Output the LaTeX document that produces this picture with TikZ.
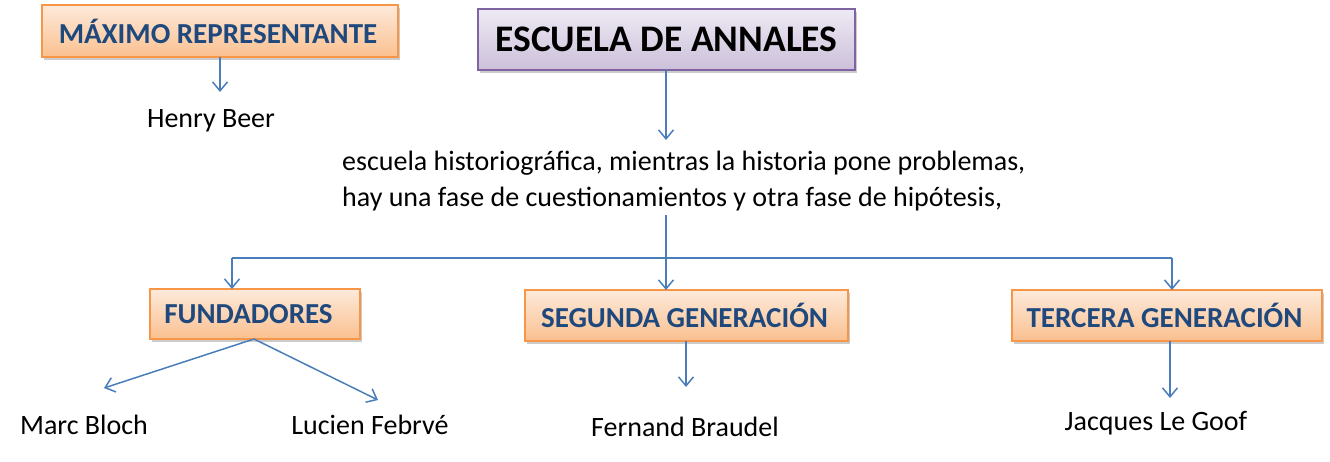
\documentclass[tikz,border=0pt]{standalone}
\usepackage{fontspec}
\setmainfont{Carlito}
\usetikzlibrary{shadows,arrows.meta}
\definecolor{ob}{HTML}{F79646}
\definecolor{otop}{HTML}{FDEADA}
\definecolor{obot}{HTML}{FAC090}
\definecolor{pb}{HTML}{8064A2}
\definecolor{ptop}{HTML}{EEEAF4}
\definecolor{pbot}{HTML}{CCC0DA}
\definecolor{tb}{HTML}{1F497D}
\definecolor{ar}{HTML}{4A7EBB}
\tikzset{
  obox/.style={draw=ob, line width=1.2pt, top color=otop, bottom color=obot, drop shadow={shadow xshift=2pt, shadow yshift=-3pt, fill=black!40, opacity=0.5}, text=tb, font=\fontsize{29}{32}\selectfont\bfseries, inner sep=0pt},
  pbox/.style={draw=pb, line width=1.2pt, top color=ptop, bottom color=pbot, drop shadow={shadow xshift=2pt, shadow yshift=-3pt, fill=black!40, opacity=0.5}, text=black, font=\fontsize{37.5}{42}\selectfont\bfseries, inner sep=0pt},
  plain/.style={font=\fontsize{28}{36}\selectfont, inner sep=0pt},
  conn/.style={draw=ar, line width=1.5pt},
  arr/.style={conn, -{Straight Barb[length=9pt,width=15pt,line width=1.5pt]}}
}
\begin{document}
\begin{tikzpicture}[x=1pt,y=-1pt]
\useasboundingbox (0,0) rectangle (1330,461);
% boxes
\node[obox, minimum width=356pt, minimum height=52pt] (max) at (220,31) {\hspace*{-4pt}MÁXIMO REPRESENTANTE};
\node[pbox, minimum width=377pt, minimum height=61pt] (esc) at (666.5,39.5) {ESCUELA DE ANNALES};
\node[obox, minimum width=210pt, minimum height=50pt] (fun) at (255,314) {\hspace*{-13pt}FUNDADORES};
\node[obox, minimum width=323pt, minimum height=51pt] (seg) at (686.5,315.5) {\hspace*{-4pt}SEGUNDA GENERACIÓN};
\node[obox, minimum width=310pt, minimum height=51pt] (ter) at (1167,315.5) {\hspace*{-5pt}TERCERA GENERACIÓN};
% plain texts
\node[plain] (hb) at (211,121) {Henry Beer};
\node[plain, anchor=west, align=left] (par) at (342,181) {escuela historiográfica, mientras la historia pone problemas,\\hay una fase de cuestionamientos y otra fase de hipótesis,};
\node[plain] (mb) at (84,425) {Marc Bloch};
\node[plain] (lf) at (370,425) {Lucien Febrvé};
\node[plain] (fb) at (685,427) {Fernand Braudel};
\node[plain] (jl) at (1156,423) {Jacques Le Goof};
% coordinates
\coordinate (mx) at (220,57);
\coordinate (hbt) at (220,92);
\coordinate (ex) at (666,70);
\coordinate (pt) at (666,140);
\coordinate (pb) at (666,215);
\coordinate (jc) at (666,258);
\coordinate (jlft) at (232,258);
\coordinate (jrgt) at (1172,258);
\coordinate (fa) at (232,289);
\coordinate (sa) at (666,290);
\coordinate (ta) at (1172,290);
\coordinate (fo) at (254,339);
\coordinate (mbt) at (104,388);
\coordinate (lft) at (378,400);
\coordinate (so) at (686,341);
\coordinate (fbt) at (686,387);
\coordinate (to) at (1170,341);
\coordinate (jlt) at (1170,398);
% connectors
\draw[arr] (mx) -- (hbt);
\draw[arr] (ex) -- (pt);
\draw[conn] (pb) -- (jc);
\draw[conn] (jlft) -- (jrgt);
\draw[arr] (jlft) -- (fa);
\draw[arr] (jc) -- (sa);
\draw[arr] (jrgt) -- (ta);
\draw[arr] (fo) -- (mbt);
\draw[arr] (fo) -- (lft);
\draw[arr] (so) -- (fbt);
\draw[arr] (to) -- (jlt);
\end{tikzpicture}
\end{document}
